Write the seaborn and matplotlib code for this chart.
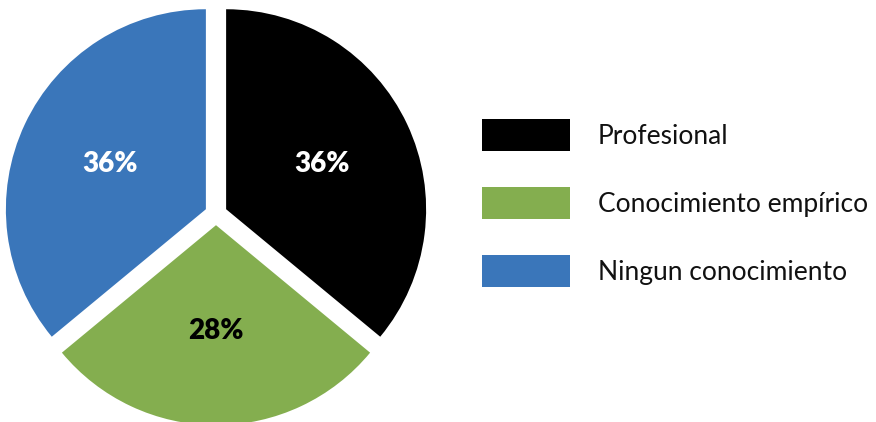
import matplotlib
matplotlib.use("Agg")
import matplotlib.pyplot as plt
from matplotlib.patches import Rectangle
import seaborn as sns

# Survey shares by knowledge type
categories = ["Profesional", "Conocimiento empírico", "Ningun conocimiento"]
shares = [36, 28, 36]
slice_colors = ["#000000", "#84ae4f", "#3a76ba"]
pct_text_colors = ["white", "black", "white"]

sns.set_theme(style="white")
plt.rcParams["font.family"] = ["Lato", "DejaVu Sans"]

W, Hfig = 876, 422
fig = plt.figure(figsize=(W / 100, Hfig / 100), dpi=100)

# square axes (in pixels) centred on the pie
half = 215
cx, cy = 216, Hfig - 214
ax = fig.add_axes([(cx - half) / W, (cy - half) / Hfig, 2 * half / W, 2 * half / Hfig])

wedges, texts, autotexts = ax.pie(
    shares,
    colors=slice_colors,
    startangle=90,
    counterclock=False,
    radius=200 / half,
    explode=[0.052] * len(shares),
    autopct=lambda p: f"{p:.0f}%",
    pctdistance=0.53,
    wedgeprops=dict(linewidth=0),
    textprops=dict(fontsize=20, fontweight="heavy"),
)
for t, c in zip(autotexts, pct_text_colors):
    t.set_color(c)

ax.set_xlim(-1, 1)
ax.set_ylim(-1, 1)
ax.set_aspect("equal")
ax.axis("off")

# legend: colour swatches with labels, laid out in pixel coordinates
sw_x, sw_w, sw_h = 482, 88, 32
first_top, row_step = 119, 68
for i, (label, color) in enumerate(zip(categories, slice_colors)):
    top = first_top + i * row_step
    fig.patches.append(
        Rectangle((sw_x / W, 1 - (top + sw_h) / Hfig), sw_w / W, sw_h / Hfig,
                  transform=fig.transFigure, facecolor=color, edgecolor="none")
    )
    fig.text(598 / W, 1 - (top + 25) / Hfig, label, fontsize=19,
             color="#111111", ha="left", va="baseline")

fig.savefig("out.png", dpi=100, facecolor="white")
